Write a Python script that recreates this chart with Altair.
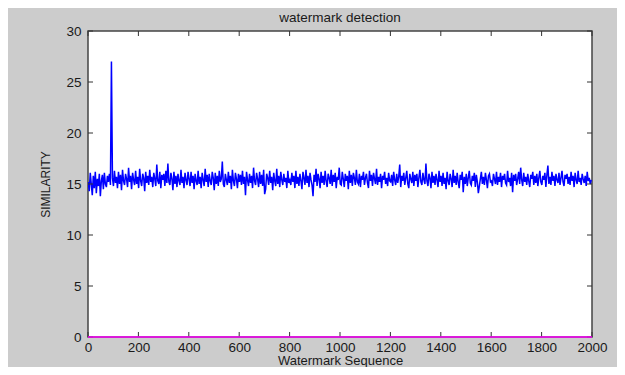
import altair as alt
import pandas as pd

# Similarity values, one every 4 samples of the watermark sequence
seg1 = [15.2, 14.3, 16.1, 15.0, 13.9, 15.8, 14.6, 16.2, 14.1, 15.5,
        14.8, 16.0, 13.8, 15.3, 15.9, 14.5, 16.1, 15.0, 14.7, 15.8,
        15.2, 16.0, 14.9, 27.0, 15.6, 14.8, 16.3, 15.1, 15.7, 14.6,
        16.2, 15.0, 15.9, 14.4, 16.4, 15.3, 14.9, 16.0, 15.5, 14.7,
        16.6, 15.2, 15.8, 14.5, 16.1, 15.4, 14.9, 16.3, 15.0, 15.7,
        14.6, 16.5, 15.3, 14.8, 16.0, 15.6, 14.3, 16.2, 15.1, 15.8,
        14.9, 16.4, 15.2, 15.7, 14.7, 16.1, 15.5, 14.8, 16.9, 15.3,
        15.0, 16.2, 14.6, 15.9, 15.4, 16.0, 14.8, 16.3, 15.1, 17.0,
        15.2, 14.9, 16.1, 15.5, 14.4, 16.2, 15.0, 15.8, 14.7, 16.0,
        15.3, 14.9, 16.4, 15.1, 15.7, 14.6, 16.1, 15.4, 14.9, 16.2]
seg2 = [15.5, 14.8, 16.2, 15.1, 15.8, 14.5, 16.0, 15.3, 14.9, 16.3,
        15.0, 15.7, 14.6, 16.1, 15.4, 14.8, 16.5, 15.2, 15.9, 14.7,
        16.0, 15.3, 14.9, 16.2, 15.6, 14.4, 16.1, 15.0, 15.8, 14.8,
        16.3, 15.2, 15.5, 17.2, 15.0, 14.7, 16.0, 15.4, 14.9, 16.2,
        15.1, 15.8, 14.5, 16.4, 15.3, 14.8, 16.1, 15.5, 14.6, 16.0,
        15.2, 15.9, 14.9, 16.3, 15.0, 15.7, 13.9, 16.2, 15.4, 14.8,
        16.0, 15.1, 15.8, 14.6, 16.6, 15.3, 14.9, 16.1, 15.5, 14.7,
        16.2, 15.0, 15.9, 14.8, 16.4, 14.0, 14.5, 16.0, 15.6, 14.9,
        16.3, 15.1, 15.7, 14.4, 16.1, 15.3, 14.8, 16.5, 15.0, 15.8,
        14.7, 16.2, 15.4, 14.9, 16.0, 15.2, 15.6, 14.6, 16.3, 15.1]
seg3 = [15.4, 14.9, 16.1, 15.2, 15.8, 14.6, 16.3, 15.0, 15.7, 14.8,
        16.0, 15.3, 14.5, 16.2, 15.6, 14.9, 16.4, 15.1, 15.8, 14.7,
        16.1, 15.4, 14.9, 13.8, 15.9, 15.2, 16.5, 14.8, 16.0, 15.5,
        14.6, 16.2, 15.1, 15.8, 14.9, 16.3, 15.3, 14.7, 16.0, 15.6,
        15.0, 16.4, 14.8, 15.9, 15.2, 16.1, 14.6, 15.7, 15.4, 16.6,
        15.0, 14.9, 16.2, 15.5, 14.7, 16.0, 15.3, 15.8, 14.5, 16.3,
        15.1, 15.9, 14.8, 16.1, 15.6, 14.9, 16.4, 15.2, 15.0, 16.0,
        14.7, 15.8, 15.4, 16.2, 14.9, 15.6, 16.0, 15.1, 14.6, 16.3,
        15.3, 15.9, 14.8, 16.1, 15.5, 15.0, 16.5, 14.9, 15.7, 15.2,
        16.0, 14.6, 15.8, 15.4, 16.2, 15.0, 15.6, 14.8, 16.1, 15.3]
seg4 = [15.2, 15.9, 14.8, 16.2, 15.4, 14.9, 16.0, 15.1, 15.7, 16.9,
        14.7, 15.8, 15.3, 16.1, 14.9, 15.6, 16.3, 15.0, 14.6, 16.0,
        15.5, 15.1, 16.2, 14.8, 15.9, 15.3, 16.0, 14.7, 15.6, 16.4,
        15.2, 14.9, 16.1, 15.4, 15.0, 17.0, 15.3, 14.8, 16.0, 15.6,
        14.6, 16.2, 15.1, 15.8, 14.9, 16.0, 15.4, 14.7, 16.3, 15.2,
        15.8, 14.8, 16.1, 15.0, 15.6, 14.5, 16.2, 15.3, 14.9, 16.0,
        15.5, 14.7, 16.4, 15.1, 15.8, 14.9, 16.1, 15.2, 14.6, 15.9,
        15.4, 16.2, 14.2, 15.7, 15.0, 16.0, 14.8, 15.6, 16.3, 15.1,
        14.9, 15.8, 15.3, 16.1, 14.7, 15.9, 15.2, 14.1, 14.8, 15.5,
        16.2, 15.0, 15.7, 14.9, 16.1, 15.4, 14.6, 15.8, 16.0, 15.2]
seg5 = [15.3, 14.8, 16.0, 15.5, 15.0, 16.2, 14.9, 15.7, 15.2, 16.1,
        14.7, 15.8, 15.4, 16.0, 15.1, 14.9, 16.3, 15.2, 15.6, 14.8,
        16.1, 14.2, 15.9, 15.3, 16.0, 14.9, 15.5, 16.2, 15.0, 16.6,
        15.4, 14.8, 16.1, 15.2, 15.7, 14.9, 16.0, 15.3, 14.7, 15.9,
        15.5, 16.2, 14.9, 15.8, 15.1, 16.0, 14.8, 15.6, 16.3, 15.2,
        14.9, 15.8, 15.4, 16.1, 14.7, 15.9, 16.8, 15.0, 15.7, 14.9,
        16.2, 15.3, 15.8, 14.8, 16.0, 15.4, 15.1, 16.1, 14.9, 15.6,
        16.3, 15.2, 14.8, 15.9, 15.5, 16.0, 15.0, 15.7, 14.9, 16.2,
        15.3, 15.8, 14.7, 16.1, 15.4, 15.0, 16.3, 15.2, 15.6, 14.9,
        16.0, 15.5, 15.1, 15.8, 14.8, 16.2, 15.3, 15.6, 15.0, 15.4]

similarity = seg1 + seg2 + seg3 + seg4 + seg5
sequence = [1 + 4 * i for i in range(len(similarity))]

baseline_x = [0, 2000]
baseline_y = [0, 0]

x_ticks = [0, 200, 400, 600, 800, 1000, 1200, 1400, 1600, 1800, 2000]
y_ticks = [0, 5, 10, 15, 20, 25, 30]

df = pd.DataFrame({"x": sequence, "y": similarity})
base_df = pd.DataFrame({"x": baseline_x, "y": baseline_y})
xt = pd.DataFrame({"x": x_ticks})
yt = pd.DataFrame({"y": y_ticks})

FONT = "Liberation Sans"
TXT = "#1a1a1a"
W, H = 504, 306
PAD_L, PAD_T = 80, 23

xscale = alt.Scale(domain=[0, 2000], nice=False, zero=False)
yscale = alt.Scale(domain=[0, 30], nice=False, zero=False)

xaxis = alt.Axis(
    values=x_ticks, format="d", title="Watermark Sequence", ticks=False, domain=False,
    grid=False, labelFont=FONT, labelFontSize=13.5, labelColor=TXT, labelPadding=3,
    titleFont=FONT, titleFontSize=13, titleFontWeight="normal", titleColor=TXT,
    titlePadding=1, labelFlush=False, labelOverlap=False)
yaxis = alt.Axis(
    values=y_ticks, format="d", title="SIMILARITY", ticks=False, domain=False, grid=False,
    labelFont=FONT, labelFontSize=13.5, labelColor=TXT, labelPadding=7,
    titleFont=FONT, titleFontSize=12, titleFontWeight="normal", titleColor=TXT,
    titlePadding=13, labelFlush=False, labelOverlap=False)

X = alt.X("x:Q", scale=xscale, axis=xaxis)
Y = alt.Y("y:Q", scale=yscale, axis=yaxis)

line = alt.Chart(df).mark_line(color="#0000ff", strokeWidth=1.5, clip=True).encode(x=X, y=Y)

baseline = alt.Chart(base_df).mark_line(color="#ff00ff", strokeWidth=1.5).encode(x=X, y=Y)

TICK = "#333333"
xt_bot = alt.Chart(xt).mark_rule(color=TICK, strokeWidth=1).encode(
    x=X, y=alt.value(H), y2=alt.value(H - 5))
xt_top = alt.Chart(xt).mark_rule(color=TICK, strokeWidth=1).encode(
    x=X, y=alt.value(0), y2=alt.value(5))
yt_left = alt.Chart(yt).mark_rule(color=TICK, strokeWidth=1).encode(
    y=Y, x=alt.value(0), x2=alt.value(5))
yt_right = alt.Chart(yt).mark_rule(color=TICK, strokeWidth=1).encode(
    y=Y, x=alt.value(W), x2=alt.value(W - 5))

chart = alt.layer(line, xt_bot, xt_top, yt_left, yt_right, baseline).properties(
    width=W,
    height=H,
    autosize="none",
    padding={"left": PAD_L, "top": PAD_T, "right": 609 - PAD_L - W, "bottom": 359 - PAD_T - H},
    background="#cccccc",
    title=alt.TitleParams("watermark detection", font=FONT, fontSize=13.5,
                          fontWeight="normal", color=TXT, anchor="middle", offset=0),
).configure_view(fill="white", stroke="#444444", strokeWidth=1.5)

chart.save("out.html", embed_options={"renderer": "svg", "actions": False})
